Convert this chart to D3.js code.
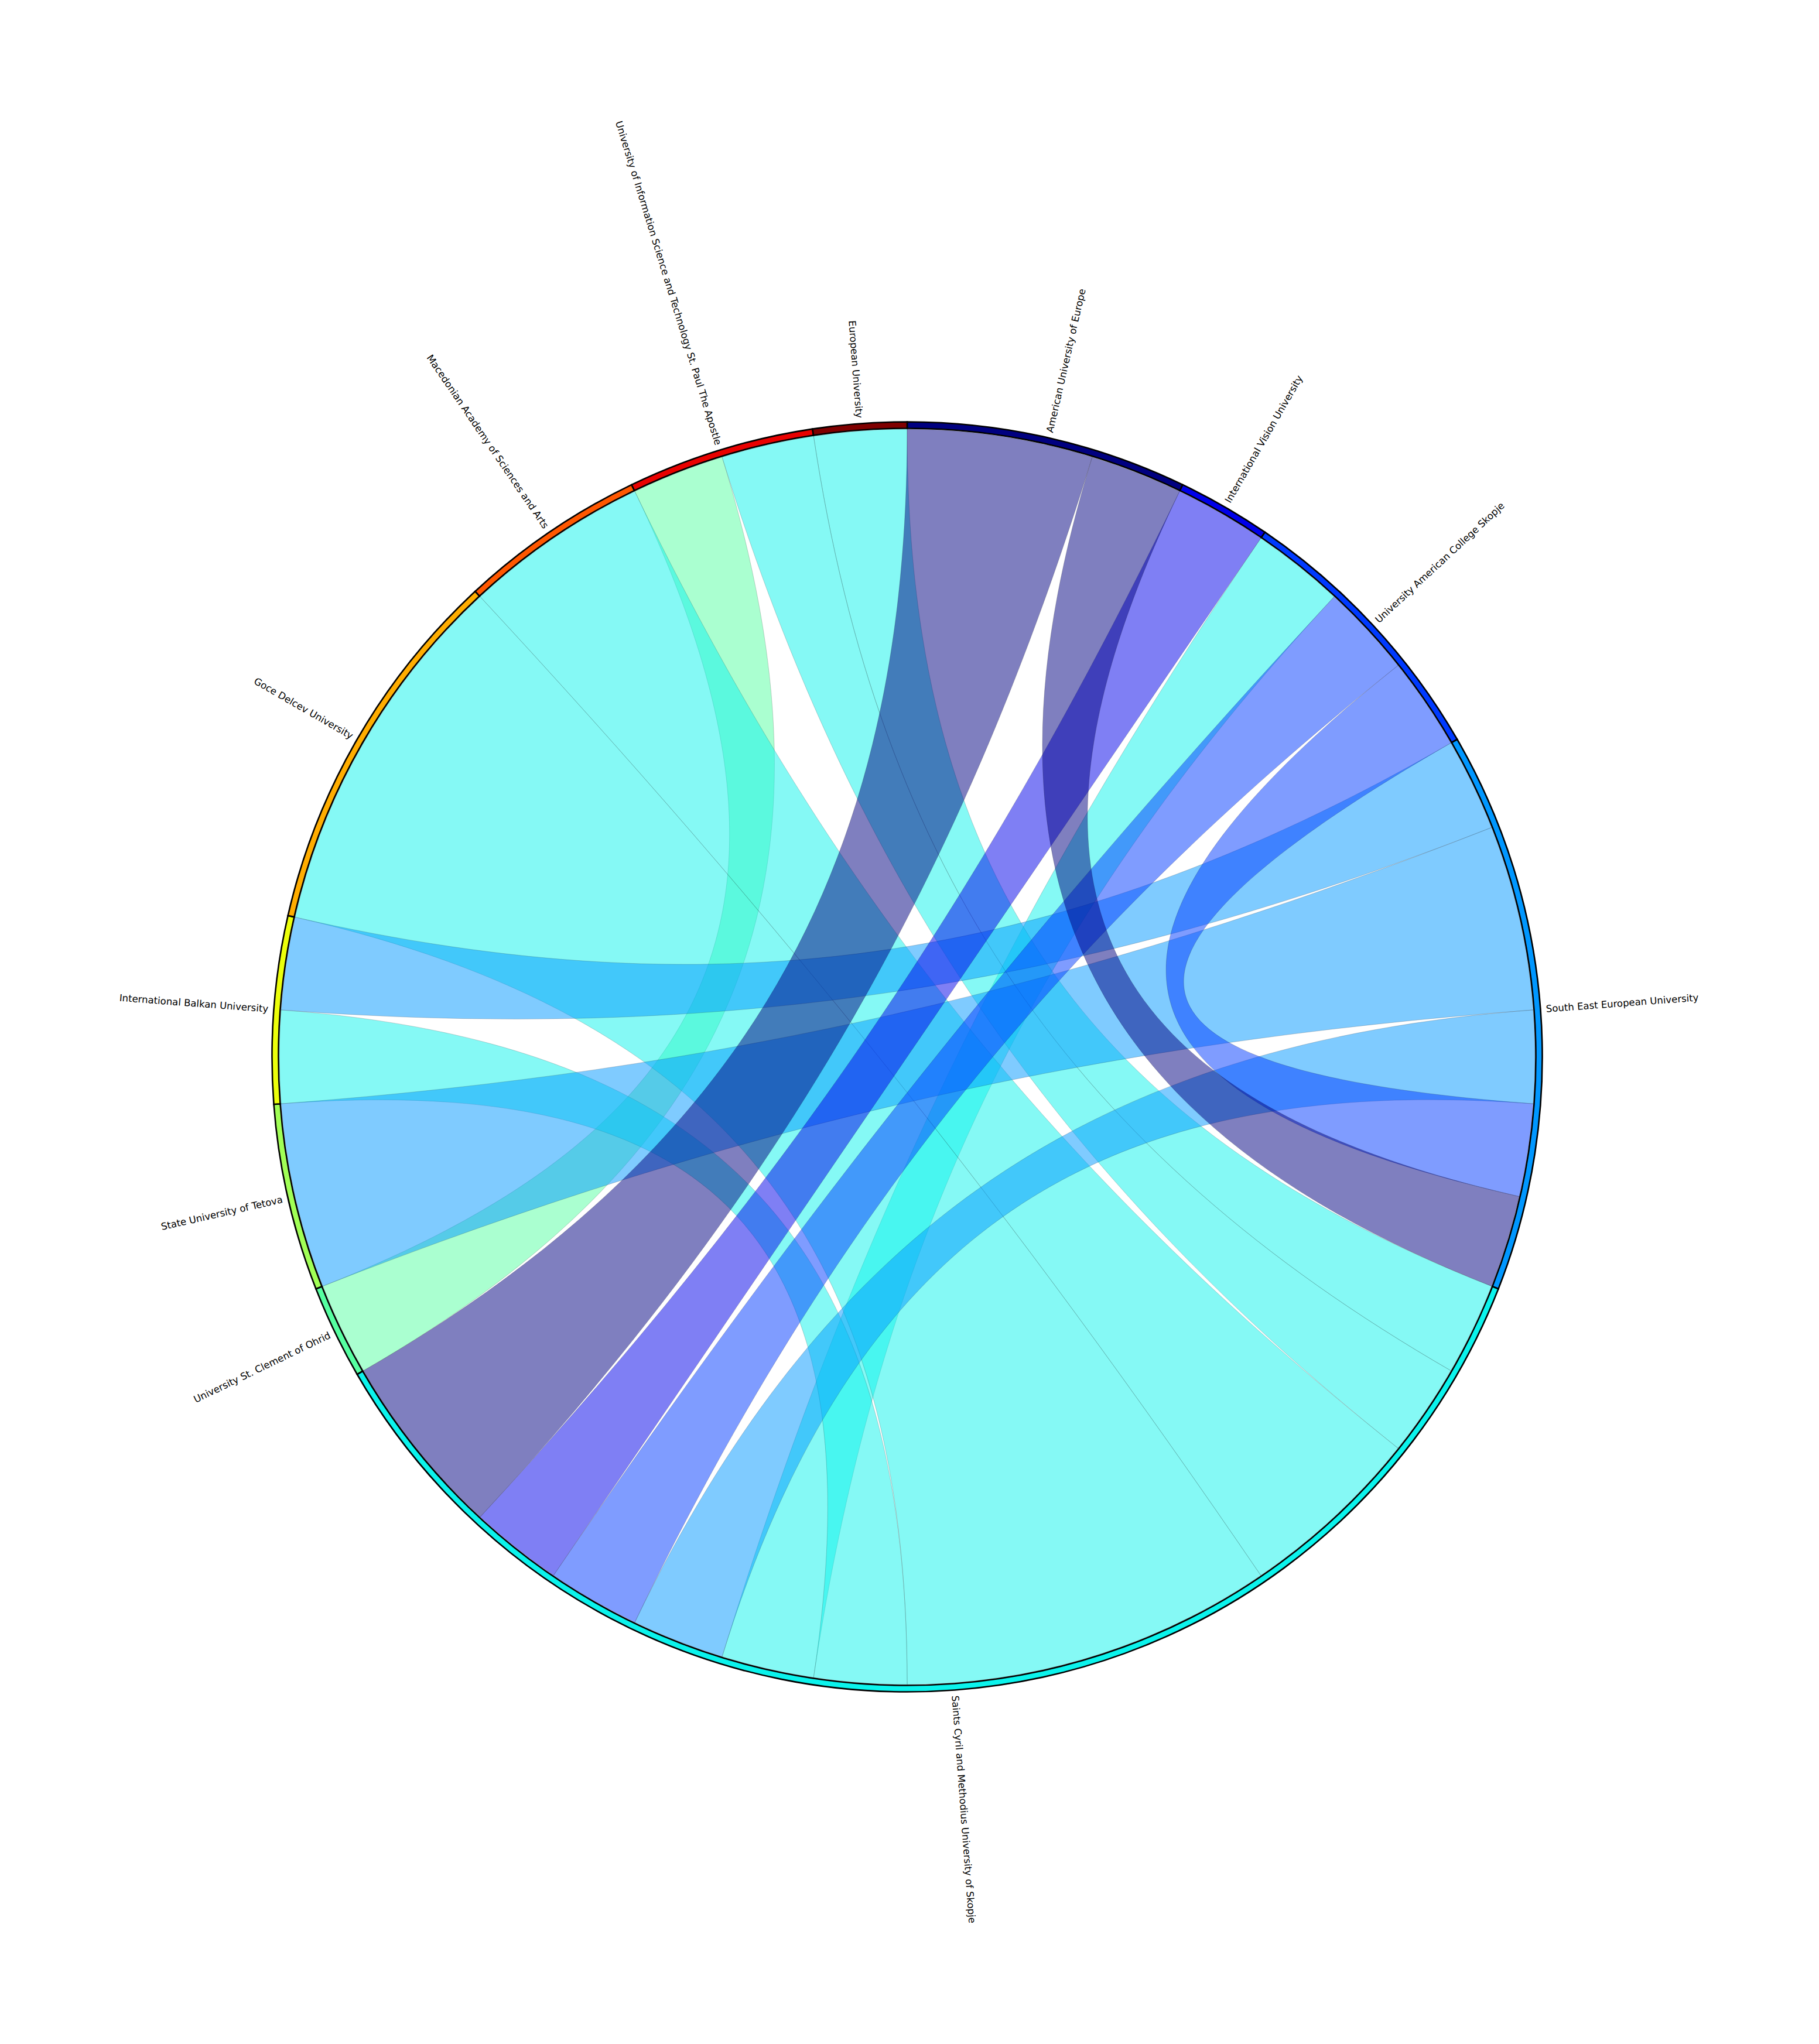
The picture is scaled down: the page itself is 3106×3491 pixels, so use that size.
<!DOCTYPE html>
<html><head><meta charset="utf-8">
<script src="https://cdn.jsdelivr.net/npm/d3@7"></script>
<style>html,body{margin:0;padding:0;background:#fff;} svg{display:block;}</style>
</head><body>
<script>
// ---- data ----
const names = [
  "American University of Europe",
  "International Vision University",
  "University American College Skopje",
  "South East European University",
  "Saints Cyril and Methodius University of Skopje",
  "University St. Clement of Ohrid",
  "State University of Tetova",
  "International Balkan University",
  "Goce Delcev University",
  "Macedonian Academy of Sciences and Arts",
  "University of Information Science and Technology St. Paul The Apostle",
  "European University"
];
const linkSource = [0, 0, 1, 2, 2, 3, 3, 3, 4, 4, 4, 4, 4, 4, 5];
const linkTarget = [4, 3, 4, 4, 3, 7, 6, 4, 2, 11, 10, 9, 8, 7, 10];
const linkValue  = [2, 1, 1, 1, 1, 1, 2, 1, 1, 1, 1, 2, 4, 1, 1];
// clockwise order of link ends inside each node's arc
const arcOrder = [[0,1],[2],[8,3,4],[5,6,7,4,1],[9,10,11,12,13,8,7,3,2,0],[14],[6],[13,5],[12],[11],[14,10],[9]];

// ---- layout ----
const W = 3106, H = 3491, cx = 1549, cy = 1805;
const R = 1072, rc = R * 0.3, ringIn = 1073.5, ringOut = 1084.5, labelR = 1094;

const n = names.length;
const nodeTotal = names.map((_, i) => d3.sum(arcOrder[i], l => linkValue[l]));
const total = d3.sum(nodeTotal);
const angle = d3.scaleLinear().domain([0, total]).range([0, 2 * Math.PI]);

const jetR = d3.scaleLinear().domain([0, 0.35, 0.66, 0.89, 1]).range([0, 0, 1, 1, 0.5]);
const jetG = d3.scaleLinear().domain([0, 0.125, 0.375, 0.64, 0.91, 1]).range([0, 0, 1, 1, 0, 0]);
const jetB = d3.scaleLinear().domain([0, 0.11, 0.34, 0.65, 1]).range([0.5, 1, 1, 0, 0]);
const colorIdx = d3.scaleLinear().domain([0, n - 1]).range([0, 1]);
const color = i => { const t = colorIdx(i); return d3.rgb(jetR(t) * 255, jetG(t) * 255, jetB(t) * 255).formatHex(); };

const nodes = [];
const srcSeg = [], tgtSeg = [];
let cum = 0;
for (let i = 0; i < n; i++) {
  const start = cum;
  for (const l of arcOrder[i]) {
    const seg = [angle(cum), angle(cum + linkValue[l])];
    if (linkSource[l] === i && !srcSeg[l]) srcSeg[l] = seg; else tgtSeg[l] = seg;
    cum += linkValue[l];
  }
  nodes.push({ i, start: angle(start), end: angle(cum) });
}

const P = (r, a) => [r * Math.sin(a), -r * Math.cos(a)];
function ribbon(s, t) {
  const p = d3.path();
  p.moveTo(...P(R, s[0]));
  p.arc(0, 0, R, s[0] - Math.PI / 2, s[1] - Math.PI / 2);
  p.bezierCurveTo(...P(rc, s[1]), ...P(rc, t[0]), ...P(R, t[0]));
  p.arc(0, 0, R, t[0] - Math.PI / 2, t[1] - Math.PI / 2);
  p.bezierCurveTo(...P(rc, t[1]), ...P(rc, s[0]), ...P(R, s[0]));
  p.closePath();
  return p.toString();
}

const svg = d3.select("body").append("svg").attr("width", W).attr("height", H);
svg.append("rect").attr("width", W).attr("height", H).attr("fill", "#fff");
const g = svg.append("g").attr("transform", `translate(${cx},${cy})`);

// chords: drawn from highest source index to lowest
const linkIdx = d3.range(linkSource.length).sort((a, b) => linkSource[b] - linkSource[a] || a - b);
g.append("g").selectAll("path").data(linkIdx).join("path")
  .attr("d", l => ribbon(srcSeg[l], tgtSeg[l]))
  .attr("fill", l => color(linkSource[l]))
  .attr("fill-opacity", 0.5)
  .attr("stroke", "#000")
  .attr("stroke-opacity", 0.18)
  .attr("stroke-width", 1);

// ring
const arcGen = d3.arc().innerRadius(ringIn).outerRadius(ringOut);
g.append("g").selectAll("path").data(nodes).join("path")
  .attr("d", d => arcGen({ startAngle: d.start, endAngle: d.end }))
  .attr("fill", d => color(d.i))
  .attr("stroke", "#000")
  .attr("stroke-width", 2.6);

// labels
g.append("g").selectAll("text").data(nodes).join("text")
  .each(function (d) {
    const mid = (d.start + d.end) / 2;
    const deg = mid * 180 / Math.PI;
    const [x, y] = P(labelR, mid);
    const right = deg < 180;
    const rot = right ? deg - 90 : deg - 270;
    d3.select(this)
      .attr("transform", `translate(${x},${y}) rotate(${rot})`)
      .attr("text-anchor", right ? "start" : "end");
  })
  .attr("dominant-baseline", "central")
  .attr("font-family", "DejaVu Sans")
  .attr("font-size", 16.5)
  .attr("fill", "#000")
  .text(d => names[d.i]);
</script>
</body></html>
